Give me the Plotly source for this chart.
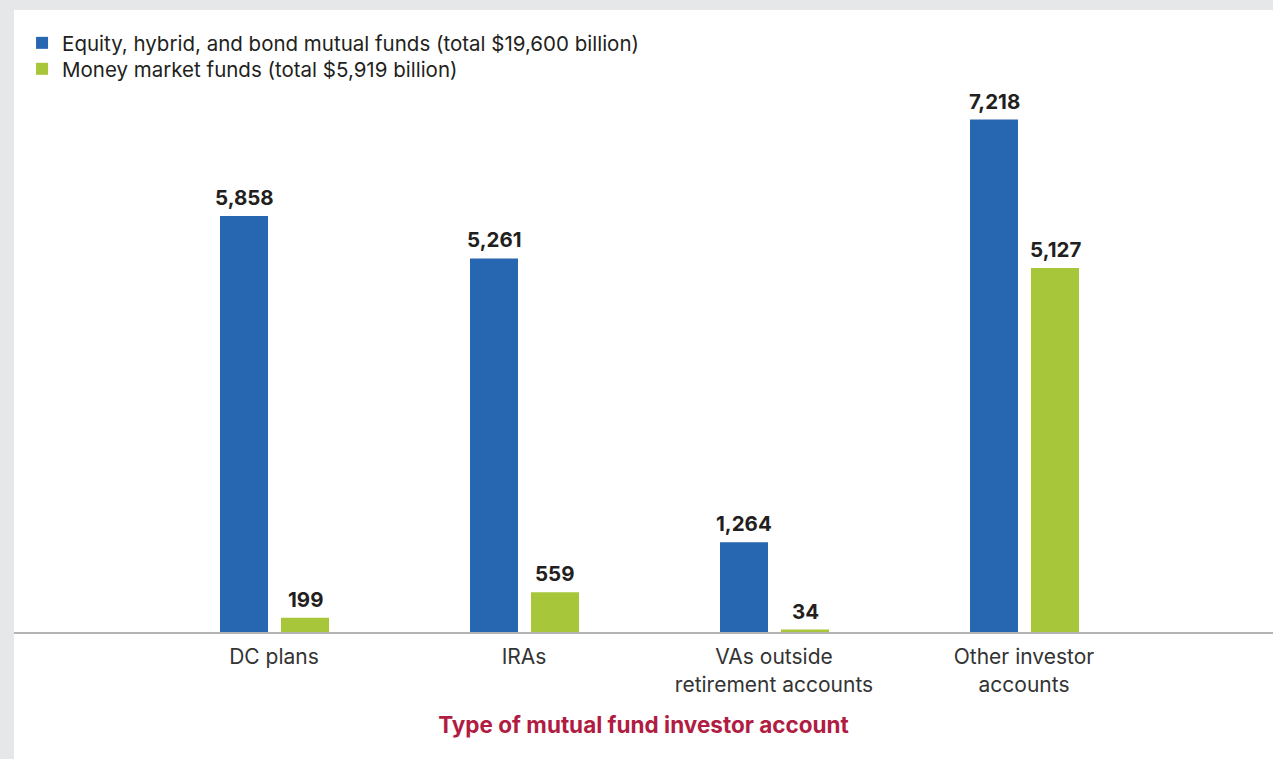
import plotly.graph_objects as go

categories = ["DC plans", "IRAs", "VAs outside<br>retirement accounts", "Other investor<br>accounts"]
equity_values = [5858, 5261, 1264, 7218]
money_values = [199, 559, 34, 5127]
series_names = [
    "Equity, hybrid, and bond mutual funds (total $19,600 billion)",
    "Money market funds (total $5,919 billion)",
]

BLUE = "#2767b1"
GREEN = "#a8c639"
FONT = "Inter, 'Open Sans', sans-serif"

bar_width = 0.192
offsets = [-0.216, 0.028]
legend_ids = ["legend", "legend2"]

fig = go.Figure()

for name, values, color, off, leg in zip(series_names, [equity_values, money_values], [BLUE, GREEN], offsets, legend_ids):
    fig.add_trace(
        go.Bar(
            name=name,
            x=categories,
            y=values,
            marker=dict(color=color, line=dict(width=0)),
            width=bar_width,
            offset=off,
            hoverinfo="y",
            legend=leg,
        )
    )
    for i, v in enumerate(values):
        fig.add_annotation(
            x=i + off + bar_width / 2,
            y=v,
            text=f"<b>{v:,}</b>",
            showarrow=False,
            yanchor="bottom",
            yshift=4,
            font=dict(family=FONT, size=20.5, color="#231f20"),
        )

# white card over the grey page background
fig.add_shape(
    type="rect", xref="paper", yref="paper",
    x0=0, x1=1.01, y0=-0.25, y1=1.169,
    fillcolor="white", line=dict(width=0), layer="below",
)

legend_style = dict(
    x=0.0064, xanchor="left", yanchor="middle",
    font=dict(family=FONT, size=20.5, color="#231f20"),
    bgcolor="rgba(0,0,0,0)",
)

fig.update_layout(
    width=1273,
    height=759,
    margin=dict(l=14, r=0, t=100, b=127, autoexpand=False),
    paper_bgcolor="#e6e7e8",
    plot_bgcolor="white",
    barmode="group",
    showlegend=True,
    legend=dict(y=1.1071, **legend_style),
    legend2=dict(y=1.0583, **legend_style),
    font=dict(family=FONT),
)

fig.update_xaxes(
    type="category",
    range=[-1.04, 3.996],
    showline=True,
    linecolor="#b3b3b3",
    linewidth=2,
    ticks="",
    showgrid=False,
    ticklabelstandoff=5,
    tickfont=dict(family=FONT, size=21, color="#333333"),
    title=dict(
        text="<b>Type of mutual fund investor account</b>",
        font=dict(family=FONT, size=22.5, color="#b01c42"),
        standoff=22,
    ),
)

fig.update_yaxes(
    range=[0, 7493],
    visible=False,
    showgrid=False,
    zeroline=False,
)

fig.write_html(
    "out.html",
    config={"displayModeBar": False},
    post_script="document.body.style.margin='0';",
)
